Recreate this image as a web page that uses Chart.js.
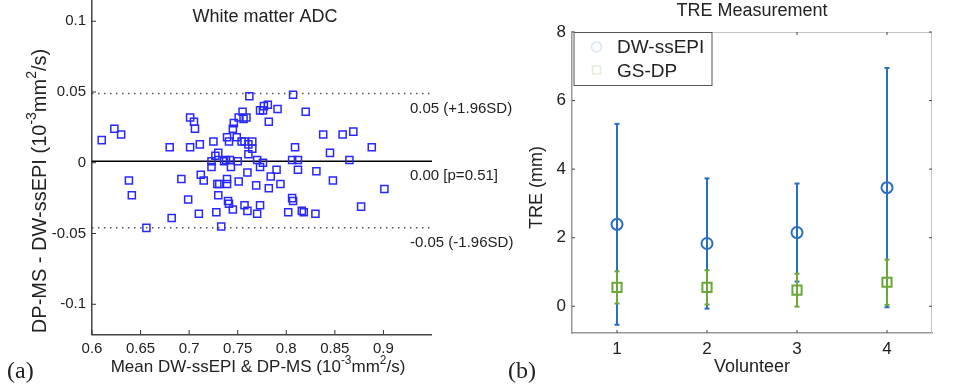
<!DOCTYPE html>
<html>
<head>
<meta charset="utf-8">
<script src="https://cdn.jsdelivr.net/npm/chart.js@4.4.1/dist/chart.umd.min.js"></script>
<style>
  body { margin: 0; background: #fff; }
  #wrap { position: relative; width: 975px; height: 387px; overflow: hidden; }
  canvas { position: absolute; top: 0; }
</style>
</head>
<body>
<div id="wrap">
  <canvas id="blandAltman" width="520" height="387" style="left:0"></canvas>
  <canvas id="tre" width="475" height="387" style="left:500px"></canvas>
</div>
<script>
// (a) Bland-Altman, white matter ADC (10^-3 mm^2/s)
const adcMean = [
  0.610, 0.623, 0.630, 0.680, 0.701, 0.705, 0.706, 0.701, 0.711, 0.725,
  0.723, 0.723, 0.727, 0.730, 0.736, 0.738, 0.739, 0.741, 0.742, 0.743,
  0.745, 0.746, 0.749, 0.751, 0.755, 0.756, 0.759, 0.754, 0.757, 0.750,
  0.761, 0.765, 0.765, 0.762, 0.761, 0.773, 0.776, 0.777, 0.781, 0.791,
  0.782, 0.770, 0.776, 0.773, 0.807, 0.820, 0.809, 0.806, 0.812, 0.838,
  0.845, 0.858, 0.869, 0.865, 0.888,
  0.638, 0.641, 0.656, 0.682, 0.692, 0.699, 0.710, 0.712, 0.715, 0.729,
  0.731, 0.739, 0.739, 0.730, 0.728, 0.733, 0.740, 0.741, 0.745, 0.751,
  0.757, 0.760, 0.760, 0.769, 0.770, 0.773, 0.782, 0.784, 0.790, 0.794,
  0.802, 0.806, 0.807, 0.812, 0.816, 0.818, 0.830, 0.831, 0.848, 0.877,
  0.901
];
const adcDiff = [
  0.016, 0.024, 0.020, 0.011, 0.032, 0.029, 0.024, 0.011, 0.013, 0.015,
  0.001, -0.003, 0.005, 0.007, 0.001, 0.002, 0.018, 0.015, 0.002, -0.003,
  0.024, 0.028, 0.018, 0.032, 0.036, 0.031, 0.032, 0.015, 0.015, 0.001,
  0.013, 0.015, 0.010, 0.047, 0.006, 0.037, 0.037, 0.040, 0.041, 0.038,
  0.029, 0.002, 0.000, -0.003, 0.048, 0.036, 0.011, 0.002, 0.002, 0.020,
  0.007, 0.020, 0.022, 0.002, 0.011,
  -0.0125, -0.023, -0.046, -0.039, -0.0115, -0.026, -0.036, -0.0085, -0.0125, -0.015,
  -0.015, -0.0115, -0.015, -0.023, -0.035, -0.045, -0.027, -0.029, -0.033, -0.0132,
  -0.030, -0.0069, -0.034, -0.016, -0.036, -0.030, -0.018, -0.0097, -0.005, -0.015,
  -0.035, -0.025, -0.027, -0.005, -0.034, -0.035, -0.036, -0.006, -0.0125, -0.031,
  -0.0186
];
const limitValues = [0.049, 0.001, -0.046];
const limitLabels = ['0.05 (+1.96SD)', '0.00 [p=0.51]', '-0.05 (-1.96SD)'];
const adcTicksX = [0.6, 0.65, 0.7, 0.75, 0.8, 0.85, 0.9];
const adcTicksY = [-0.1, -0.05, 0, 0.05, 0.1];

// (b) TRE per volunteer (mm), mean and SD
const volunteers = [1, 2, 3, 4];
const dwMean = [2.39, 1.83, 2.15, 3.46];
const dwSd = [2.93, 1.90, 1.43, 3.49];
const gsMean = [0.55, 0.55, 0.47, 0.70];
const gsSd = [0.47, 0.50, 0.48, 0.66];
const treTicks = [0, 2, 4, 6, 8];

const FONT = "'Liberation Sans', Arial, sans-serif";
const SERIF = "'Liberation Serif', 'Times New Roman', serif";
const BLUE = '#2b6fc0';
const GREEN = '#6aa83a';
Chart.defaults.font.family = FONT;
Chart.defaults.color = '#222';

// text with superscripts, centred on (x, y)
function richText(ctx, parts, x, y, size, rotate) {
  ctx.save();
  ctx.translate(x, y);
  if (rotate) ctx.rotate(-Math.PI / 2);
  ctx.textBaseline = 'middle';
  ctx.textAlign = 'left';
  ctx.fillStyle = '#222';
  const fontOf = sup => `${sup ? size * 0.7 : size}px ${FONT}`;
  let total = 0;
  for (const [t, sup] of parts) { ctx.font = fontOf(sup); total += ctx.measureText(t).width; }
  let cx = -total / 2;
  for (const [t, sup] of parts) {
    ctx.font = fontOf(sup);
    ctx.fillText(t, cx, sup ? -size * 0.38 : 0);
    cx += ctx.measureText(t).width;
  }
  ctx.restore();
}

function tick(ctx, x1, y1, x2, y2) {
  ctx.beginPath(); ctx.moveTo(x1, y1); ctx.lineTo(x2, y2); ctx.stroke();
}

function noPad(s) {
  s.paddingTop = 0; s.paddingBottom = 0; s.paddingLeft = 0; s.paddingRight = 0;
}

const leftDecor = {
  id: 'leftDecor',
  afterDraw(chart) {
    const {ctx, chartArea: a, scales: {x, y}} = chart;
    ctx.save();
    ctx.setLineDash([]);
    // x axis line
    ctx.strokeStyle = '#444';
    ctx.lineWidth = 1.5;
    tick(ctx, a.left - 0.75, a.bottom + 0.75, a.right, a.bottom + 0.75);

    ctx.strokeStyle = '#333';
    ctx.lineWidth = 1;
    adcTicksX.forEach(v => { const px = x.getPixelForValue(v); tick(ctx, px, a.bottom, px, a.bottom - 4); });
    adcTicksY.forEach(v => { const py = y.getPixelForValue(v); tick(ctx, a.left, py, a.left + 4, py); });

    ctx.fillStyle = '#222';
    ctx.font = `15px ${FONT}`;
    ctx.textBaseline = 'middle';
    ctx.textAlign = 'left';
    limitValues.forEach((v, i) => ctx.fillText(limitLabels[i], a.right - 22, y.getPixelForValue(v) + 15));

    ctx.font = `18px ${FONT}`;
    ctx.textAlign = 'center';
    ctx.fillText('White matter ADC', 265, 17);

    ctx.font = `24px ${SERIF}`;
    ctx.textAlign = 'left';
    ctx.textBaseline = 'alphabetic';
    ctx.fillText('(a)', 7, 378);
    ctx.restore();

    richText(ctx, [['Mean DW-ssEPI & DP-MS (10'], ['-3', true], ['mm'], ['2', true], ['/s)']], 258, 367, 17, false);
    richText(ctx, [['DP-MS - DW-ssEPI (10'], ['-3', true], ['mm'], ['2', true], ['/s)']], 40, 191, 20, true);
  }
};

const lineSets = limitValues.map((v, i) => ({
  type: 'line',
  data: [{x: 0.6, y: v}, {x: 0.95, y: v}],
  borderColor: i === 1 ? '#000' : '#555',
  borderWidth: 1.5,
  borderDash: i === 1 ? [] : [1.5, 4.5],
  pointRadius: 0
}));

new Chart(document.getElementById('blandAltman'), {
  type: 'scatter',
  data: {
    datasets: [{
      data: adcMean.map((x, i) => ({x, y: adcDiff[i]})),
      pointStyle: 'rect',
      pointRadius: 5,
      borderColor: 'rgb(40,40,255)',
      backgroundColor: 'rgba(0,0,0,0)',
      borderWidth: 1.5
    }, ...lineSets]
  },
  options: {
    responsive: false,
    animation: false,
    layout: { autoPadding: false, padding: { top: 0, right: 88, left: 0, bottom: 0 } },
    plugins: { legend: { display: false }, tooltip: { enabled: false } },
    scales: {
      x: {
        type: 'linear', min: 0.6, max: 0.95,
        afterBuildTicks: s => { s.ticks = adcTicksX.map(value => ({value})); },
        afterFit: s => { s.height = 53; noPad(s); },
        grid: { display: false, drawTicks: false },
        border: { display: false },
        ticks: { padding: 6, font: { size: 15 }, color: '#222', maxRotation: 0, autoSkip: false,
          callback: v => String(+v.toFixed(2)) }
      },
      y: {
        type: 'linear', min: -0.121, max: 0.115,
        afterBuildTicks: s => { s.ticks = adcTicksY.map(value => ({value})); },
        afterFit: s => { s.width = 92; noPad(s); },
        grid: { display: false, drawTicks: false },
        border: { color: '#444', width: 1.5 },
        ticks: { padding: 6, font: { size: 15 }, color: '#222', autoSkip: false,
          callback: v => String(+v.toFixed(2)) }
      }
    }
  },
  plugins: [leftDecor]
});

const errorBars = {
  id: 'errorBars',
  beforeDatasetsDraw(chart) {
    const {ctx, scales: {x, y}} = chart;
    ctx.save();
    ctx.lineWidth = 2;
    chart.data.datasets.forEach(ds => {
      ctx.strokeStyle = ds.borderColor;
      ds.data.forEach((p, i) => {
        const px = x.getPixelForValue(p.x);
        const lo = y.getPixelForValue(p.y - ds.errors[i]);
        const hi = y.getPixelForValue(p.y + ds.errors[i]);
        tick(ctx, px, lo, px, hi);
        tick(ctx, px - 2.5, lo, px + 2.5, lo);
        tick(ctx, px - 2.5, hi, px + 2.5, hi);
      });
    });
    ctx.restore();
  }
};

const rightDecor = {
  id: 'rightDecor',
  afterDraw(chart) {
    const {ctx, chartArea: a, scales: {x, y}} = chart;
    ctx.save();
    ctx.setLineDash([]);
    ctx.strokeStyle = '#c4c4c4';
    ctx.lineWidth = 1;
    tick(ctx, a.left, a.top + 0.5, a.right, a.top + 0.5);
    tick(ctx, a.right - 0.5, a.top, a.right - 0.5, a.bottom);

    ctx.strokeStyle = '#444';
    volunteers.forEach(v => {
      const px = x.getPixelForValue(v);
      tick(ctx, px, a.bottom, px, a.bottom - 3);
      tick(ctx, px, a.top, px, a.top + 3);
    });
    treTicks.forEach(v => {
      const py = y.getPixelForValue(v);
      tick(ctx, a.left, py, a.left + 3, py);
      tick(ctx, a.right, py, a.right - 3, py);
    });

    // legend
    const lx = a.left + 1.5, ly = a.top, lw = 138, lh = 53;
    ctx.fillStyle = '#fff';
    ctx.fillRect(lx, ly, lw, lh);
    ctx.strokeStyle = '#555';
    ctx.strokeRect(lx + 0.5, ly + 0.5, lw, lh);
    ctx.lineWidth = 1.5;
    ctx.strokeStyle = 'rgba(43,111,192,0.18)';
    ctx.beginPath(); ctx.arc(lx + 23, ly + 15, 5, 0, Math.PI * 2); ctx.stroke();
    ctx.strokeStyle = 'rgba(106,168,58,0.18)';
    ctx.strokeRect(lx + 19, ly + 34, 8, 8);
    ctx.fillStyle = '#222';
    ctx.font = `19px ${FONT}`;
    ctx.textAlign = 'left';
    ctx.textBaseline = 'alphabetic';
    chart.data.datasets.forEach((ds, i) => ctx.fillText(ds.label, lx + 43.5, ly + 21 + i * 24));

    const cx = (a.left + a.right) / 2;
    ctx.textAlign = 'center';
    ctx.font = `18px ${FONT}`;
    ctx.fillText('TRE Measurement', cx, 16);
    ctx.fillText('Volunteer', cx, 372);

    ctx.font = `24px ${SERIF}`;
    ctx.textAlign = 'left';
    ctx.fillText('(b)', 8, 378);

    ctx.translate(37, (a.top + a.bottom) / 2 + 5);
    ctx.rotate(-Math.PI / 2);
    ctx.font = `18px ${FONT}`;
    ctx.textAlign = 'center';
    ctx.textBaseline = 'middle';
    ctx.fillText('TRE (mm)', 0, 0);
    ctx.restore();
  }
};

new Chart(document.getElementById('tre'), {
  type: 'scatter',
  data: {
    datasets: [{
      label: 'DW-ssEPI',
      data: volunteers.map((v, i) => ({x: v, y: dwMean[i]})),
      errors: dwSd,
      pointStyle: 'circle',
      pointRadius: 5.5,
      borderColor: BLUE,
      backgroundColor: 'rgba(0,0,0,0)',
      borderWidth: 2
    }, {
      label: 'GS-DP',
      data: volunteers.map((v, i) => ({x: v, y: gsMean[i]})),
      errors: gsSd,
      pointStyle: 'rect',
      pointRadius: 6.5,
      borderColor: GREEN,
      backgroundColor: 'rgba(0,0,0,0)',
      borderWidth: 2
    }]
  },
  options: {
    responsive: false,
    animation: false,
    layout: { autoPadding: false, padding: { top: 32, right: 43, left: 0, bottom: 0 } },
    plugins: { legend: { display: false }, tooltip: { enabled: false } },
    scales: {
      x: {
        type: 'linear', min: 0.5, max: 4.5,
        afterBuildTicks: s => { s.ticks = volunteers.map(value => ({value})); },
        afterFit: s => { s.height = 54; noPad(s); },
        grid: { display: false, drawTicks: false },
        border: { color: '#999', width: 1.5 },
        ticks: { padding: 6, font: { size: 17 }, color: '#222', maxRotation: 0, autoSkip: false }
      },
      y: {
        type: 'linear', min: -0.78, max: 8,
        afterBuildTicks: s => { s.ticks = treTicks.map(value => ({value})); },
        afterFit: s => { s.width = 72; noPad(s); },
        grid: { display: false, drawTicks: false },
        border: { color: '#999', width: 1.5 },
        ticks: { padding: 6, font: { size: 17 }, color: '#222', autoSkip: false }
      }
    }
  },
  plugins: [errorBars, rightDecor]
});
</script>
</body>
</html>
